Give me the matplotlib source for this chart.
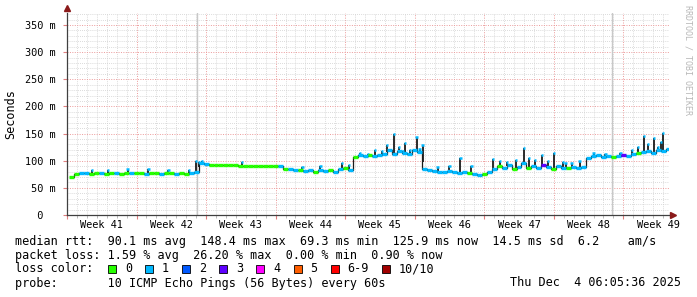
import numpy as np
import matplotlib
matplotlib.use('Agg')
from matplotlib import pyplot as plt
from matplotlib.patches import Rectangle

# time axis: days since the start of week 41, one sample every half day
days = np.arange(0.5, 61.0, 0.5)

median_ms = [70, 76,
             77, 77, 76, 77, 77, 76, 78, 77, 76, 77, 77, 78, 77, 76, 77, 77, 76, 77, 77, 76, 77, 76, 77,
             79, 95, 94,
             93, 93, 93, 92, 92, 92, 91, 91, 91, 91, 91, 90, 91, 90, 91,
             85, 84, 82, 83, 81, 82, 80, 83, 81, 82, 80, 84, 86, 83,
             107, 110, 109, 111, 108, 110, 113, 120, 112, 118, 115, 112, 120, 116, 84,
             82, 81, 80, 79, 81, 80, 78, 79, 77, 76, 74, 76, 79,
             84, 90, 86, 92, 85, 88, 95, 87, 90, 86, 92, 88, 84, 90, 87, 86, 88, 87, 89,
             105, 108, 110, 107, 109, 106, 108, 110, 108, 112, 114, 116, 118, 115, 120, 118, 122]

# number of lost pings (index into loss colours) for each sample
loss = [0, 0,
        1, 1, 0, 0, 1, 0, 0, 1, 0, 0, 1, 0, 0, 1, 0, 0, 1, 0, 0, 1, 0, 0, 1,
        1, 1, 1,
        0, 0, 0, 0, 0, 0, 0, 0, 0, 0, 0, 0, 0, 0, 1,
        0, 1, 1, 0, 1, 1, 0, 1, 1, 0, 1, 1, 0, 1,
        0, 1, 1, 0, 1, 1, 1, 1, 1, 1, 1, 1, 1, 1, 1,
        1, 1, 1, 1, 1, 1, 1, 1, 0, 1, 1, 0, 1,
        1, 0, 1, 1, 0, 1, 1, 0, 1, 1, 3, 1, 0, 1, 1, 0, 1, 1, 1,
        1, 1, 1, 1, 1, 0, 1, 3, 1, 1, 0, 1, 1, 1, 1, 1, 1]

# short rtt spikes
spike_days = [2.5, 4.1, 6.1, 8.2, 10.2, 12.3, 13.0, 13.3, 13.6, 17.6,
              23.7, 25.5, 27.7, 28.4, 29.5, 30.3, 31.0, 31.7, 32.2, 32.9, 33.4, 33.8,
              34.0, 34.5, 35.2, 35.5, 35.8,
              37.3, 38.5, 39.6, 40.7, 42.9, 43.6, 44.3, 45.2, 46.0, 46.5, 47.1, 47.8,
              48.4, 49.0, 49.9, 50.2, 50.8, 51.6,
              53.0, 54.2, 55.7, 56.9, 57.5, 58.1, 58.5, 59.1, 59.5, 59.8, 60.0]
spike_ms = [82, 83, 84, 85, 83, 82, 100, 98, 99, 97,
            88, 90, 96, 92, 115, 112, 120, 118, 128, 149, 125, 118,
            132, 120, 144, 122, 129,
            88, 90, 105, 90, 103, 100, 98, 101, 123, 105, 101, 110,
            100, 114, 98, 96, 95, 100,
            115, 113, 115, 120, 125, 145, 130, 142, 125, 135, 151]

loss_labels = ['0', '1', '2', '3', '4', '5', '6-9', '10/10']
loss_colors = ['#26ff00', '#00b8ff', '#0059ff', '#5e00ff', '#ff00ff', '#ff5e00', '#ff0000', '#a10000']

week_numbers = [41, 42, 43, 44, 45, 46, 47, 48, 49]
marker_days = [13.1, 54.9]

y_ticks = [0, 50, 100, 150, 200, 250, 300, 350]
y_tick_labels = ['  0  ', ' 50 m', '100 m', '150 m', '200 m', '250 m', '300 m', '350 m']

legend_rtt = 'median rtt:  90.1 ms avg  148.4 ms max  69.3 ms min  125.9 ms now  14.5 ms sd  6.2    am/s'
legend_loss = 'packet loss: 1.59 % avg  26.20 % max  0.00 % min  0.90 % now'
legend_probe = 'probe:       10 ICMP Echo Pings (56 Bytes) every 60s'
timestamp = 'Thu Dec  4 06:05:36 2025'

mono = 'DejaVu Sans Mono'
W, H = 697, 297

fig = plt.figure(figsize=(W / 100, H / 100), dpi=100)
ax = fig.add_axes([67 / W, 1 - 215 / H, 602 / W, 202 / H])

median_ms = np.array(median_ms, dtype=float)
ax.step(days, median_ms, where='mid', color='#1a1a1a', lw=0.9, zorder=3)
base = np.interp(spike_days, days, median_ms)
ax.vlines(spike_days, base, spike_ms, color='#1a1a1a', lw=1.3, zorder=3)
ax.hlines(spike_ms, np.array(spike_days) - 0.12, np.array(spike_days) + 0.12,
          color=loss_colors[1], lw=1.8, zorder=4)
ax.hlines(median_ms, days - 0.25, days + 0.25, colors=[loss_colors[l] for l in loss],
          lw=2.4, zorder=4)

for d in marker_days:
    ax.axvline(d, color='#c8c8c8', lw=1, zorder=2)

ax.set_xlim(0.4, 60.6)
ax.set_ylim(0, 372)

week_starts = [7 * (w - 41) for w in week_numbers]
ax.set_xticks(week_starts)
ax.set_xticklabels([])
ax.set_xticks(np.arange(0, 61, 1), minor=True)
ax.set_yticks(y_ticks)
ax.set_yticklabels(y_tick_labels, fontfamily=mono, fontsize=7.4)
ax.set_yticks(np.arange(0, 371, 10), minor=True)
ax.tick_params(axis='y', which='major', length=3, width=0.8, color='#e08080', pad=5)
ax.tick_params(axis='y', which='minor', length=0)
ax.tick_params(axis='x', which='major', length=3, width=0.8, color='#e08080')
ax.tick_params(axis='x', which='minor', length=2, width=0.6, color='#b0b0b0')

ax.grid(which='minor', color='#cfcfcf', ls=(0, (1, 1.5)), lw=0.6, zorder=0)
ax.grid(which='major', color='#ec9a9a', ls=(0, (1, 1.5)), lw=0.7, zorder=1)
ax.set_axisbelow(True)

for s in ['top', 'right']:
    ax.spines[s].set_visible(False)
for s in ['left', 'bottom']:
    ax.spines[s].set_color('#404040')
    ax.spines[s].set_linewidth(0.9)

ax.plot([0], [1 + 5 / 202], marker='^', ms=4.5, color='#8b1a1a', transform=ax.transAxes, clip_on=False)
ax.plot([1 + 4 / 602], [0], marker='>', ms=4.5, color='#8b1a1a', transform=ax.transAxes, clip_on=False)

for w, start in zip(week_numbers, week_starts):
    ax.text(start + 3.5, -10 / 202, 'Week %d' % w, transform=ax.get_xaxis_transform(),
            ha='center', va='center', fontfamily=mono, fontsize=7.4, color='black')

ax.set_ylabel('Seconds', fontfamily=mono, fontsize=8.5)
ax.yaxis.set_label_coords(17 / 602 - 67 / 602, 0.5)

fig.text(688 / W, 1 - 60 / H, 'RRDTOOL / TOBI OETIKER', rotation=270, ha='center', va='center',
         fontfamily=mono, fontsize=6, color='#b8b8b8')

fs = 8.45
cw = 7.1
fig.text(15 / W, 1 - 241 / H, legend_rtt, fontfamily=mono, fontsize=fs, va='center')
fig.text(15 / W, 1 - 255 / H, legend_loss, fontfamily=mono, fontsize=fs, va='center')
fig.text(15 / W, 1 - 269 / H, 'loss color:', fontfamily=mono, fontsize=fs, va='center')
fig.text(15 / W, 1 - 283 / H, legend_probe, fontfamily=mono, fontsize=fs, va='center')
fig.text(681 / W, 1 - 283 / H, timestamp, fontfamily=mono, fontsize=fs, va='center', ha='right')

x = 108
for lab, col in zip(loss_labels, loss_colors):
    fig.patches.append(Rectangle((x / W, 1 - 273 / H), 8 / W, 8 / H, facecolor=col,
                                 edgecolor='black', lw=0.6, transform=fig.transFigure))
    fig.text((x + 17) / W, 1 - 269 / H, lab, fontfamily=mono, fontsize=fs, va='center')
    x = x + 18 + len(lab) * cw + 12

fig.savefig('out.png', dpi=100, facecolor='white')
